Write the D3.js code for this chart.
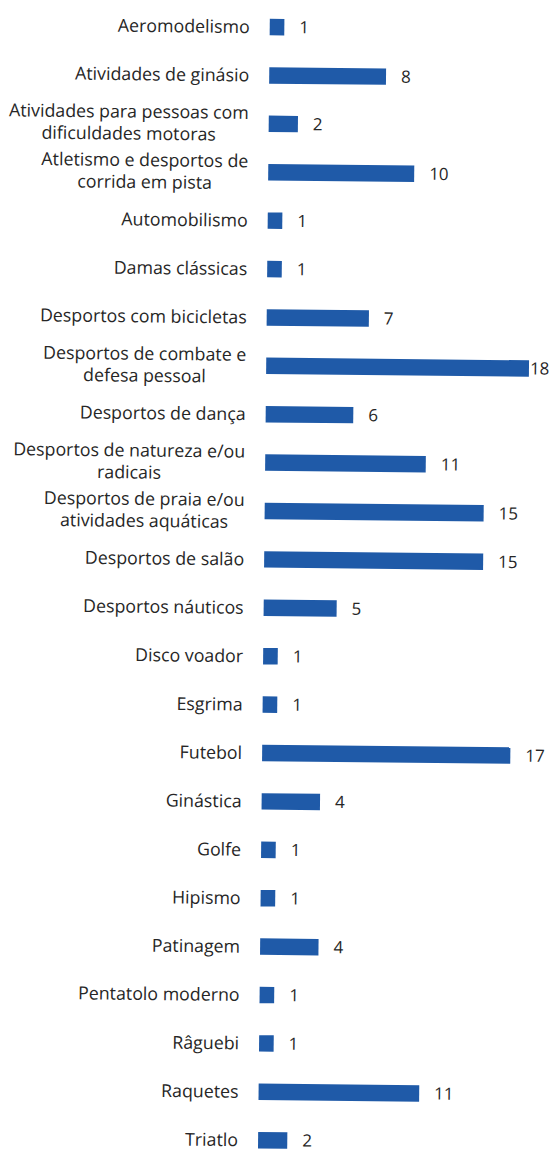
<!DOCTYPE html>
<html><head><meta charset="utf-8">
<script src="https://cdn.jsdelivr.net/npm/d3@7"></script>
<style>
html,body{margin:0;padding:0;background:#fff;}
svg{display:block;}
text{font-family:"Open Sans",sans-serif;fill:#262626;}
</style></head>
<body>
<script>
const categories = [
  "Aeromodelismo","Atividades de ginásio","Atividades para pessoas com dificuldades motoras",
  "Atletismo e desportos de corrida em pista","Automobilismo","Damas clássicas",
  "Desportos com bicicletas","Desportos de combate e defesa pessoal","Desportos de dança",
  "Desportos de natureza e/ou radicais","Desportos de praia e/ou atividades aquáticas",
  "Desportos de salão","Desportos náuticos","Disco voador","Esgrima","Futebol","Ginástica",
  "Golfe","Hipismo","Patinagem","Pentatolo moderno","Râguebi","Raquetes","Triatlo"
];
const values = [1,8,2,10,1,1,7,18,6,11,15,15,5,1,1,17,4,1,1,4,1,1,11,2];

const W = 552, H = 1152;
const barX0 = 270, rowTop = 0, rowStep = 48.4;
const svg = d3.select("body").append("svg").attr("width", W).attr("height", H);
const g = svg.append("g").attr("transform", "rotate(0.6)");

const y = d3.scaleBand().domain(categories)
  .range([rowTop, rowTop + rowStep * categories.length]).paddingInner(0.66).paddingOuter(0.33);
const x = d3.scaleLinear().domain([0, 18]).range([barX0, barX0 + 18 * 14.6]);

g.selectAll("rect.bar").data(categories).join("rect")
  .attr("class","bar")
  .attr("x", x(0))
  .attr("y", d => y(d))
  .attr("width", (d,i) => x(values[i]) - x(0))
  .attr("height", y.bandwidth())
  .attr("fill", "#1f5aa8");

const fs = 17.8, lh = 22, maxW = 248;
const measure = svg.append("text").style("font-size", fs + "px").attr("visibility","hidden");
function tw(s){ measure.text(s); return measure.node().getComputedTextLength(); }
function wrap(s){
  const words = s.split(" "); const lines = []; let cur = "";
  words.forEach(w => {
    const t = cur ? cur + " " + w : w;
    if (tw(t) > maxW && cur) { lines.push(cur); cur = w; }
    else cur = t;
  });
  lines.push(cur); return lines;
}

const right = barX0 - 20;
g.selectAll("text.cat").data(categories).join("text")
  .attr("class","cat")
  .style("font-size", fs + "px")
  .each(function(d){
    const lines = wrap(d);
    const blockW = d3.max(lines, tw);
    const cy = y(d) + y.bandwidth()/2;
    const t = d3.select(this).attr("text-anchor","middle");
    lines.forEach((ln, k) => {
      t.append("tspan").attr("x", right - blockW/2)
        .attr("y", cy + (k - (lines.length - 1)/2) * lh)
        .attr("dy","0.35em").text(ln);
    });
  });
measure.remove();

g.selectAll("text.val").data(categories).join("text")
  .attr("class","val")
  .style("font-size","17px")
  .attr("y", d => y(d) + y.bandwidth()/2)
  .attr("dy","0.35em")
  .text((d,i) => values[i])
  .each(function(d,i){
    const t = d3.select(this);
    const wdt = this.getComputedTextLength();
    let px = x(values[i]) + 15;
    const limit = W - 2 + (y(d)) * 0.0105;
    if (px + wdt > limit) px = x(values[i]) + 1;
    t.attr("x", px);
  });
</script>
</body></html>
